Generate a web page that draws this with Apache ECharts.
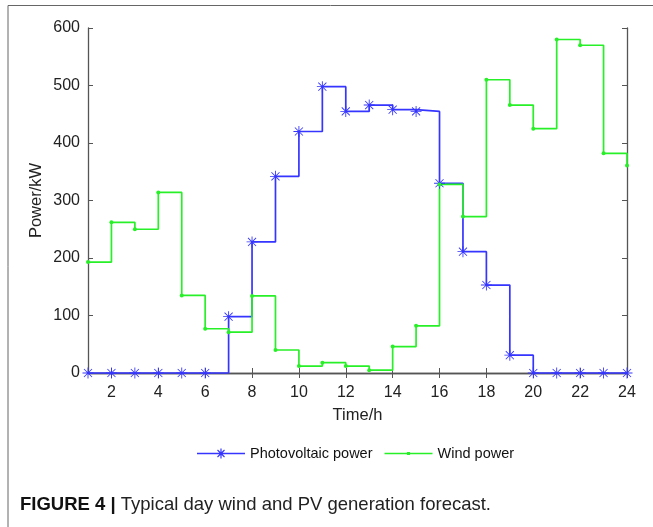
<!DOCTYPE html>
<html>
<head>
<meta charset="UTF-8">
<title>Typical day wind and PV generation forecast</title>
<script src="https://cdn.jsdelivr.net/npm/echarts@6/dist/echarts.min.js"></script>
<style>
  body { margin: 0; background: #fff; }
  #chart { width: 653px; height: 527px; }
</style>
</head>
<body>
<div id="chart"></div>
<script>
// hours 1..24
var hours = [1, 2, 3, 4, 5, 6, 7, 8, 9, 10, 11, 12, 13, 14, 15, 16, 17, 18, 19, 20, 21, 22, 23, 24];
// photovoltaic power (kW)
var pvPower = [0, 0, 0, 0, 0, 0, 98, 228, 342, 420, 498, 455, 466, 458, 455, 330, 211, 153, 31, 0, 0, 0, 0, 0];
// wind power (kW)
var windPower = [193, 262, 250, 314, 135, 77, 71, 134, 40, 12, 18, 12, 5, 46, 82, 328, 272, 510, 466, 425, 580, 570, 382, 361];
var xTicks = [2, 4, 6, 8, 10, 12, 14, 16, 18, 20, 22, 24];

// asterisk marker
var star = 'path://M9.2 0h1.6v20h-1.6z M0 9.2h20v1.6h-20z ' +
  'M3.2 2.1L17.9 16.8L16.8 17.9L2.1 3.2z M16.8 2.1L17.9 3.2L3.2 17.9L2.1 16.8z';
// legend icons, 48 x 12 box: line + marker
var starIcon = 'path://M0 5.25h48v1.5h-48z M23.4 1h1.2v10h-1.2z M19 5.4h10v1.2h-10z ' +
  'M20.9 2.1L27.9 9.1L27.1 9.9L20.1 2.9z M27.1 2.1L27.9 2.9L20.9 9.9L20.1 9.1z M0 0h0.01v12h-0.01z';
var dotIcon = 'path://M0 5.25h48v1.5h-48z M22.5 4.5h3v3h-3z M0 0h0.01v12h-0.01z';

function pairs(ys) {
  return hours.map(function (h, i) { return [h, ys[i]]; });
}

var font = 'Liberation Sans, Arial, Helvetica, sans-serif';
var axisColor = '#555';

var chart = echarts.init(document.getElementById('chart'));
chart.setOption({
  animation: false,
  backgroundColor: '#fff',
  grid: { left: 88, right: 26, top: 28, bottom: 154 },
  xAxis: [{
    type: 'value', min: 1, max: 24,
    name: 'Time/h', nameLocation: 'middle', nameGap: 34,
    nameTextStyle: { fontFamily: font, fontSize: 16.5, color: '#222' },
    axisLine: { lineStyle: { color: axisColor, width: 1.3 } },
    axisTick: { inside: true, length: 5, customValues: xTicks, lineStyle: { color: axisColor } },
    axisLabel: { customValues: xTicks, fontFamily: font, fontSize: 16, color: '#222', margin: 12 },
    splitLine: { show: false }
  }, {
    type: 'value', min: 1, max: 24, position: 'top',
    axisLine: { lineStyle: { color: axisColor, width: 1.3 } },
    axisTick: { inside: true, length: 5, customValues: xTicks, lineStyle: { color: axisColor } },
    axisLabel: { show: false },
    splitLine: { show: false }
  }],
  yAxis: [{
    type: 'value', min: 0, max: 600, interval: 100,
    name: 'Power/kW', nameLocation: 'middle', nameGap: 43, nameMoveOverlap: false,
    nameTextStyle: { fontFamily: font, fontSize: 16.5, color: '#222' },
    axisLine: { show: true, lineStyle: { color: axisColor, width: 1.3 } },
    axisTick: { show: true, inside: true, length: 5, lineStyle: { color: axisColor } },
    axisLabel: { fontFamily: font, fontSize: 16, color: '#222', margin: 8 },
    splitLine: { show: false }
  }, {
    type: 'value', min: 0, max: 600, interval: 100, position: 'right',
    axisLine: { show: true, lineStyle: { color: axisColor, width: 1.3 } },
    axisTick: { show: true, inside: true, length: 5, lineStyle: { color: axisColor } },
    axisLabel: { show: false },
    splitLine: { show: false }
  }],
  legend: {
    top: 441, left: 192,
    itemWidth: 48, itemHeight: 12, itemGap: 12,
    textStyle: { fontFamily: font, fontSize: 14.5, color: '#111' },
    data: [
      { name: 'Photovoltaic power', icon: starIcon },
      { name: 'Wind power', icon: dotIcon }
    ]
  },
  series: [{
    name: 'Photovoltaic power', type: 'line', step: 'end',
    data: pairs(pvPower),
    symbol: star, symbolSize: 11, showAllSymbol: true, clip: false,
    lineStyle: { color: '#3535ff', width: 1.7 },
    itemStyle: { color: '#3535ff', borderWidth: 0 }
  }, {
    name: 'Wind power', type: 'line', step: 'end',
    data: pairs(windPower),
    symbol: 'circle', symbolSize: 4, showAllSymbol: true, clip: false,
    lineStyle: { color: '#28f028', width: 1.7 },
    itemStyle: { color: '#28f028', borderWidth: 0 }
  }],
  graphic: [{
    type: 'polyline', silent: true,
    shape: { points: [[8, 527], [8, 5.5], [653, 5.5]] },
    style: { stroke: '#666', lineWidth: 1, fill: null }
  }, {
    type: 'text', left: 20, top: 495,
    style: {
      text: '{b|FIGURE 4 |}{n| Typical day wind and PV generation forecast.}',
      rich: {
        b: { fontFamily: font, fontWeight: 'bold', fontSize: 18.5, fill: '#111' },
        n: { fontFamily: font, fontSize: 18.5, fill: '#222' }
      }
    }
  }]
});
</script>
</body>
</html>
